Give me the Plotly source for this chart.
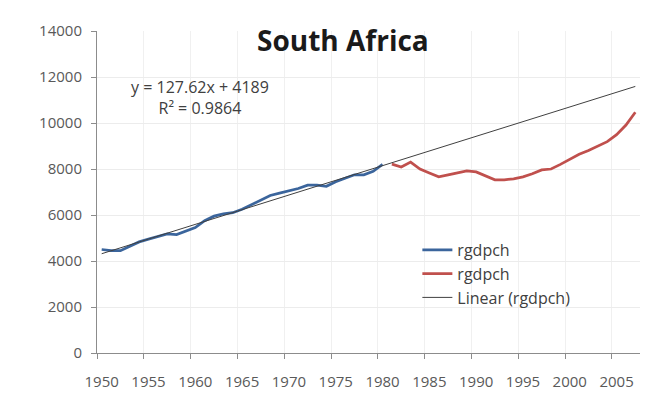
import plotly.graph_objects as go

years_hist = list(range(1950, 1981))
gdp_hist = [4500, 4450, 4450, 4650, 4830, 4950, 5050, 5180, 5150, 5300,
            5450, 5750, 5950, 6050, 6100, 6250, 6450, 6650, 6850, 6950,
            7050, 7150, 7300, 7300, 7250, 7450, 7600, 7750, 7750, 7900, 8200]

years_recent = list(range(1981, 2008))
gdp_recent = [8213, 8085, 8298, 8000, 7830, 7660, 7745, 7830, 7915, 7872,
              7700, 7530, 7530, 7575, 7660, 7790, 7960, 8000, 8200, 8425,
              8640, 8800, 8980, 9190, 9490, 9910, 10470]

trend_slope = 127.62
trend_intercept = 4189
trend_years = [1950, 2007]
trend_vals = [trend_slope * (y - 1949) + trend_intercept for y in trend_years]

x_ticks = list(range(1950, 2006, 5))
y_ticks = list(range(0, 14001, 2000))

font_fam = "Open Sans, Liberation Sans, Arial"
fig = go.Figure()
fig.add_trace(go.Scatter(x=years_hist, y=gdp_hist, mode="lines", name="rgdpch",
                         line=dict(color="#3B659C", width=2.75)))
fig.add_trace(go.Scatter(x=years_recent, y=gdp_recent, mode="lines", name="rgdpch",
                         line=dict(color="#C0504D", width=2.75)))
fig.add_trace(go.Scatter(x=trend_years, y=trend_vals, mode="lines", name="Linear (rgdpch)",
                         line=dict(color="#404040", width=1)))

fig.update_layout(
    width=649, height=399,
    margin=dict(l=89, r=17, t=16, b=54),
    paper_bgcolor="white", plot_bgcolor="white",
    font=dict(family=font_fam, color="#595959", size=15),
    showlegend=True,
    legend=dict(x=0.59, y=0.373, xanchor="left", yanchor="top",
                bgcolor="rgba(0,0,0,0)", font=dict(size=16, color="#404040"),
                tracegroupgap=0, itemwidth=30),
    title=dict(text="<b>South Africa</b>", x=0.516, xanchor="center", y=0.918, yanchor="middle",
               font=dict(size=28, color="#1a1a1a", family=font_fam)),
    xaxis=dict(range=[1949.5, 2007.5], tickvals=x_ticks, ticktext=[str(v) for v in x_ticks],
               showgrid=False, showline=True, linecolor="#8c8c8c", linewidth=1,
               ticks="", zeroline=False, tickfont=dict(size=15, color="#595959"),
               ticklabelstandoff=15,
               minor=dict(tick0=1949.5, dtick=5, ticks="outside", ticklen=5, tickcolor="#8c8c8c",
                          showgrid=True, gridcolor="#f0f0f0")),
    yaxis=dict(range=[0, 14000], tickvals=y_ticks, ticktext=[str(v) for v in y_ticks],
               showgrid=True, gridcolor="#ececec",
               showline=True, linecolor="#8c8c8c", linewidth=1, ticks="outside", ticklen=5,
               tickcolor="#8c8c8c", zeroline=False, tickfont=dict(size=15, color="#595959"),
               ticklabelstandoff=6),
    annotations=[
        dict(x=0.19, y=0.793, xref="paper", yref="paper", showarrow=False,
             xanchor="center", yanchor="middle",
             text="y = 127.62x + 4189<br>R² = 0.9864", align="center",
             font=dict(size=16, color="#404040"))
    ],
)

fig.write_html("out.html")
